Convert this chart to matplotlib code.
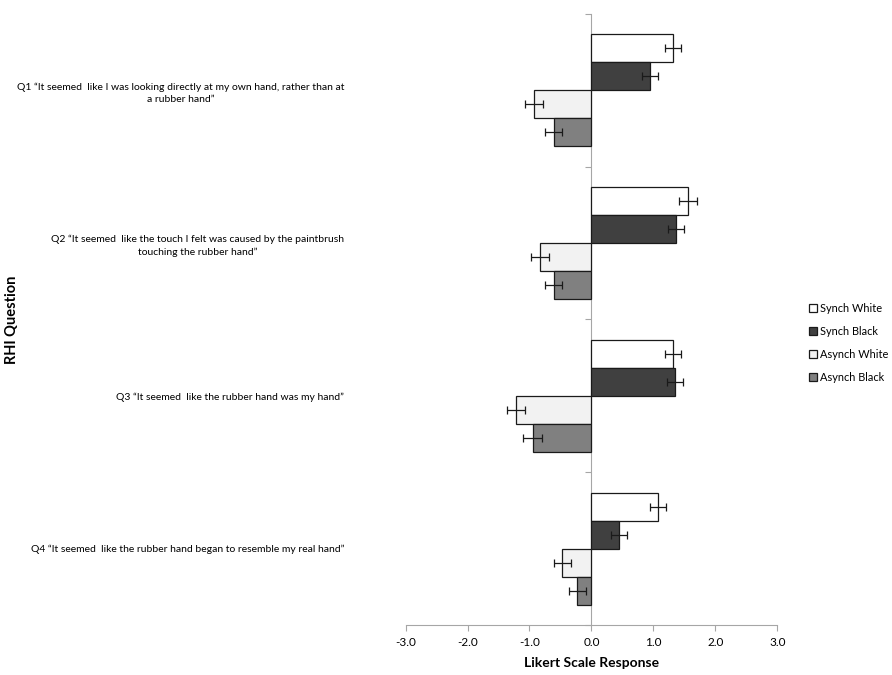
import numpy as np
import matplotlib
matplotlib.use('Agg')
import matplotlib.pyplot as plt

plt.rcParams['font.family'] = ['Lato', 'DejaVu Sans']

questions = [
    'Q1 \u201cIt seemed  like I was looking directly at my own hand, rather than at\na rubber hand\u201d',
    'Q2 \u201cIt seemed  like the touch I felt was caused by the paintbrush\ntouching the rubber hand\u201d',
    'Q3 \u201cIt seemed  like the rubber hand was my hand\u201d',
    'Q4 \u201cIt seemed  like the rubber hand began to resemble my real hand\u201d',
]
series = ['Synch White', 'Synch Black', 'Asynch White', 'Asynch Black']
means = [
    [1.31, 1.56, 1.31, 1.08],    # Synch White
    [0.94, 1.37, 1.35, 0.45],    # Synch Black
    [-0.93, -0.83, -1.22, -0.47],  # Asynch White
    [-0.61, -0.61, -0.95, -0.23],  # Asynch Black
]
errs = [
    [0.13, 0.14, 0.13, 0.13],
    [0.13, 0.13, 0.13, 0.13],
    [0.14, 0.14, 0.14, 0.14],
    [0.14, 0.14, 0.15, 0.14],
]
colors = ['#ffffff', '#404040', '#f2f2f2', '#808080']

fig = plt.figure(figsize=(8.92, 6.75), dpi=100)
ax = fig.add_axes([0.4547, 0.0741, 0.4167, 0.9052])

y = np.arange(len(questions))
h = 0.1834
for i, name in enumerate(series):
    off = (i - 1.5) * h
    ax.barh(y + off, means[i], h, xerr=errs[i], color=colors[i],
            edgecolor='#1a1a1a', linewidth=0.9, label=name,
            error_kw=dict(ecolor='#1a1a1a', elinewidth=0.9, capsize=2.6, capthick=0.9),
            zorder=3)

ax.set_xlim(-3, 3)
ax.set_ylim(3.5, -0.5)
ax.set_xticks(np.arange(-3, 4, 1))
ax.set_xticklabels([f'{v:.1f}' for v in np.arange(-3, 4, 1)], fontsize=8.5)

for s in ['top', 'right']:
    ax.spines[s].set_visible(False)
ax.spines['left'].set_position(('data', 0))
ax.spines['left'].set_color('#a6a6a6')
ax.spines['bottom'].set_color('#a6a6a6')
ax.tick_params(axis='x', colors='#a6a6a6', length=4, labelcolor='black', pad=5)

# category boundaries as major ticks, labels on minor ticks
ax.set_yticks(np.arange(-0.5, 4, 1))
ax.set_yticklabels([])
ax.tick_params(axis='y', which='major', colors='#a6a6a6', length=4)
ax.set_yticks(y, questions, minor=True)
ax.tick_params(axis='y', which='minor', length=0, pad=178, labelsize=7.5)
for t in ax.get_yticklabels(minor=True):
    t.set_multialignment('center')
    t.set_linespacing(1.45)

ax.set_xlabel('Likert Scale Response', fontsize=10, fontweight='bold', labelpad=6)
fig.text(0.014, 0.526, 'RHI Question', rotation=90, fontsize=10.5,
         fontweight='bold', va='center', ha='center')

ax.legend(loc='center left', bbox_to_anchor=(0.902, 0.492), bbox_transform=fig.transFigure,
          frameon=False, fontsize=7.9, handlelength=0.7, handleheight=0.7,
          handletextpad=0.3, labelspacing=1.1, borderaxespad=0)

plt.savefig('out.png')
plt.close()
